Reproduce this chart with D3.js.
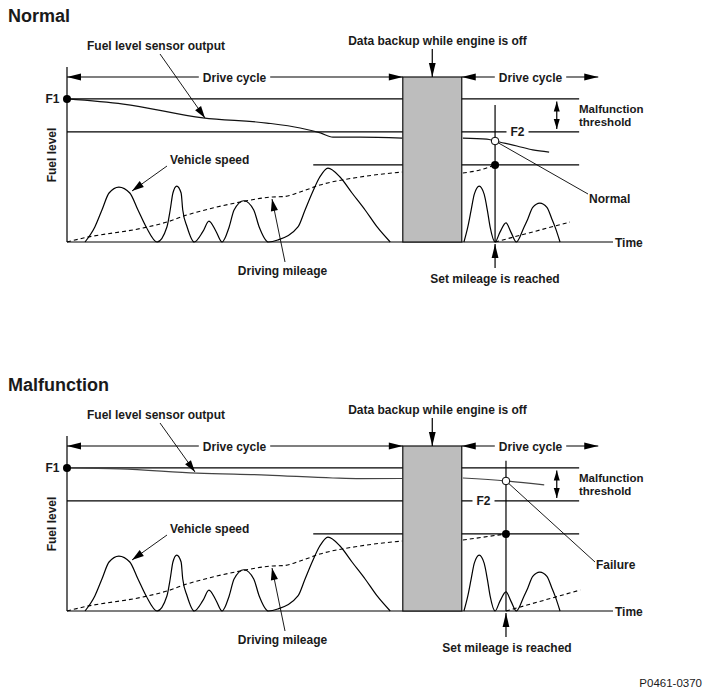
<!DOCTYPE html>
<html>
<head>
<meta charset="utf-8">
<script src="https://cdn.jsdelivr.net/npm/d3@7"></script>
<style>
  body { margin: 0; background: #fff; }
  svg { display: block; font-family: "Liberation Sans", Arial, sans-serif; }
  text { font-weight: bold; font-size: 12px; fill: #1a1a1a; }
</style>
</head>
<body>
<svg width="709" height="697"></svg>
<script>
// time (x) and level (y) are in 0-100 diagram units
const levelF1 = 86.7
const levelF2 = 66.7
const levelMileage = 46.7
const backup = [61.5, 72.3]
const refLineEnd = 93.8
const mileageLineStart = 45.1
const driveCycleEnd = 97.3

// vehicle speed, same in both panels
const speedBefore = [
  [3.3, 0], [5.1, 9.1], [6.4, 19.4], [7.7, 29.7], [9.5, 33.3], [11.5, 29.7], [13.0, 19.4], [14.5, 9.1], [16.5, 0],
  [18.3, 9.1], [18.9, 19.4], [19.4, 29.7], [20.1, 33.9], [20.9, 29.7], [21.2, 19.4], [22.0, 9.1], [23.3, 0],
  [24.9, 6.4], [26.0, 12.7], [27.3, 6.4], [28.4, 0],
  [29.7, 9.1], [30.6, 19.4], [32.4, 25], [34.2, 19.4], [35.2, 9.1], [36.9, 0],
  [38.6, 1.2], [42.3, 9.1], [43.6, 19.4], [44.9, 29.7], [46.3, 39.4], [47.8, 44.8],
  [50.0, 39.4], [52.2, 29.7], [54.6, 19.4], [56.8, 9.1], [59.2, 0]
]
const speedAfter = [
  [72.7, 0], [73.4, 9], [74.0, 19], [74.6, 29], [75.5, 33.9], [76.4, 29], [77.0, 19], [77.5, 9], [78.4, 0],
  [79.3, 6], [80.4, 11.6], [81.3, 6], [82.3, 0],
  [83.7, 9], [84.4, 14], [85.3, 21], [86.6, 23.6], [87.9, 21], [88.8, 14], [89.4, 9], [90.3, 0]
]

// driving mileage (dashed), before the engine stops
const mileageBefore = [
  [0, 0], [3, 2.4], [13.9, 8.5], [18.3, 12.1], [22, 16.4], [26.7, 20.6],
  [31.7, 24.2], [37.7, 27.3], [39.6, 27.5], [42.7, 30.3], [46.3, 34.5],
  [53.7, 39.4], [61.4, 42.4]
]

// Normal panel
const normalFuelBefore = [
  [0, 86.7], [10.3, 83.6], [24.9, 75.2], [36.6, 72.1], [42.7, 69.1],
  [46.4, 66.1], [48.7, 63.6], [53.7, 63.6], [61.4, 63.0]
]
const normalFuelAfter = [[72.5, 63.0], [76.9, 62.4], [78.4, 61.2], [82.4, 58.2], [85.3, 55.8], [88.3, 54.5]]
const normalMileageAfterBox = [[72.5, 41.8], [75.6, 43.6], [78.4, 46.7]]
const normalMileageAfterSet = [[78.4, 0], [92.1, 12.1]]
const normalSetTime = 78.4

// Malfunction panel
const failFuelBefore = [
  [0, 86.7], [9.7, 86.1], [23.8, 83.6], [36.6, 82.4], [48.7, 80.6], [53.7, 80.2], [61.4, 80.3]
]
const failFuelAfter = [[72.5, 80.6], [80.4, 78.8], [87.4, 76.4]]
const failMileageAfterBox = [[72.5, 43], [80.4, 46.7]]
const failMileageAfterSet = [[80.4, 0], [94, 12.7]]
const failSetTime = 80.4

const panels = [
  { dy: 0, title: "Normal", fuel: [normalFuelBefore, normalFuelAfter], mileAfter: [normalMileageAfterBox, normalMileageAfterSet],
    setT: normalSetTime, vTop: 83, f2x: 517.5, result: "Normal", resEnd: [588, 194], resText: [589, 203],
    fuelTip: [205, 118], setTextX: 495 },
  { dy: 369, title: "Malfunction", fuel: [failFuelBefore, failFuelAfter], mileAfter: [failMileageAfterBox, failMileageAfterSet],
    setT: failSetTime, vTop: 91, f2x: 483.5, result: "Failure", resEnd: [595, 193], resText: [596, 200],
    fuelTip: [195, 103], setTextX: 507 }
]

const svg = d3.select("svg")
svg.append("rect").attr("width", 709).attr("height", 697).attr("fill", "#fff")

const x = d3.scaleLinear().domain([0, 100]).range([67, 613])
const y = d3.scaleLinear().domain([0, 100]).range([242, 77])
const curve = d3.line().x(d => x(d[0])).y(d => y(d[1])).curve(d3.curveMonotoneX)

const defs = svg.append("defs")
function marker(id, len, half) {
  defs.append("marker")
    .attr("id", id)
    .attr("markerUnits", "userSpaceOnUse")
    .attr("viewBox", `${-len - 1} ${-half - 1} ${len + 2} ${half * 2 + 2}`)
    .attr("markerWidth", len + 2).attr("markerHeight", half * 2 + 2)
    .attr("refX", 0).attr("refY", 0)
    .attr("orient", "auto-start-reverse")
    .append("path")
    .attr("d", `M0,0L${-len},${-half}L${-len},${half}Z`)
    .attr("fill", "#000")
}
marker("big", 14, 3.4)
marker("small", 10, 3)
marker("lead", 12, 3.6)

function seg(g, x1, y1, x2, y2, w) {
  return g.append("line").attr("x1", x1).attr("y1", y1).attr("x2", x2).attr("y2", y2)
    .attr("stroke", "#000").attr("stroke-width", w || 1.2)
}

// horizontal line with a label sitting in a gap
function gapped(g, x1, x2, yy, label, cx, pad, arrows) {
  const t = g.append("text").attr("x", cx).attr("y", yy + 4.5).attr("text-anchor", "middle").text(label)
  const w = t.node().getComputedTextLength()
  const a = seg(g, x1, yy, cx - w / 2 - pad, yy)
  const b = seg(g, cx + w / 2 + pad, yy, x2, yy)
  if (arrows) {
    a.attr("marker-start", "url(#big)")
    b.attr("marker-end", "url(#big)")
  }
}

panels.forEach(p => {
  const g = svg.append("g").attr("transform", `translate(0,${p.dy})`)

  g.append("text").attr("x", 8).attr("y", 22).style("font-size", "18px").text(p.title)

  // axes
  seg(g, x(0), y(0), x(0), y(106))
  seg(g, x(0), y(0), x(100), y(0))
  g.append("text").attr("x", 615).attr("y", y(0) + 4.5).text("Time")
  g.append("text").attr("transform", `translate(56,155) rotate(-90)`).attr("text-anchor", "middle").text("Fuel level")

  // reference levels
  seg(g, x(0), y(levelF1), x(refLineEnd), y(levelF1))
  gapped(g, x(0), x(refLineEnd), y(levelF2), "F2", p.f2x, 4, false)
  seg(g, x(mileageLineStart), y(levelMileage), x(refLineEnd), y(levelMileage))
  g.append("text").attr("x", 59.5).attr("y", y(levelF1) + 4.5).attr("text-anchor", "end").text("F1")

  // vehicle speed
  ;[speedBefore, speedAfter].forEach(s => {
    g.append("path").attr("d", curve(s)).attr("fill", "none").attr("stroke", "#000").attr("stroke-width", 1.2)
  })
  // driving mileage
  ;[mileageBefore, ...p.mileAfter].forEach(s => {
    g.append("path").attr("d", curve(s)).attr("fill", "none").attr("stroke", "#000")
      .attr("stroke-width", 1.1).attr("stroke-dasharray", "4,3")
  })
  // fuel level sensor output
  p.fuel.forEach(s => {
    g.append("path").attr("d", curve(s)).attr("fill", "none")
      .attr("stroke", p.dy ? "#444" : "#111").attr("stroke-width", 1.2)
  })

  // engine-off backup box
  g.append("rect")
    .attr("x", x(backup[0])).attr("y", y(100))
    .attr("width", x(backup[1]) - x(backup[0])).attr("height", y(0) - y(100))
    .attr("fill", "#bdbdbd").attr("stroke", "#111").attr("stroke-width", 1.2)

  // drive cycles
  gapped(g, x(0), x(backup[0]), y(100), "Drive cycle", 234.5, 4, true)
  gapped(g, x(backup[1]), x(driveCycleEnd), y(100), "Drive cycle", 530.5, 4, true)

  const bx = x((backup[0] + backup[1]) / 2)
  seg(g, bx, 49, bx, y(100)).attr("marker-end", "url(#big)")
  g.append("text").attr("x", 437.5).attr("y", 45).attr("text-anchor", "middle").text("Data backup while engine is off")

  // malfunction threshold
  const tx = x(89.7)
  seg(g, tx, y(levelF1) + 2.5, tx, y(levelF2) - 3).attr("marker-start", "url(#small)").attr("marker-end", "url(#small)")
  g.append("text").attr("x", 579).attr("y", 113).style("font-size", "11.5px").text("Malfunction")
  g.append("text").attr("x", 579).attr("y", 126).style("font-size", "11.5px").text("threshold")

  // set mileage reached
  const sx = x(p.setT)
  seg(g, sx, y(0), sx, y(p.vTop))
  seg(g, sx, 268, sx, 244).attr("marker-end", "url(#big)")
  g.append("text").attr("x", p.setTextX).attr("y", 283).attr("text-anchor", "middle").text("Set mileage is reached")

  const fuelAtSet = p.fuel[1].find(d => d[0] === p.setT)
  seg(g, sx, y(fuelAtSet[1]), p.resEnd[0], p.resEnd[1], 0.9)
  g.append("text").attr("x", p.resText[0]).attr("y", p.resText[1]).text(p.result)

  g.append("circle").attr("cx", x(0)).attr("cy", y(levelF1)).attr("r", 4).attr("fill", "#000")
  g.append("circle").attr("cx", sx).attr("cy", y(levelMileage)).attr("r", 4).attr("fill", "#000")
  g.append("circle").attr("cx", sx).attr("cy", y(fuelAtSet[1])).attr("r", 3.8)
    .attr("fill", "#fff").attr("stroke", "#000").attr("stroke-width", 1)

  // labels with leaders
  g.append("text").attr("x", 87).attr("y", 50).text("Fuel level sensor output")
  seg(g, 160, 54, p.fuelTip[0], p.fuelTip[1], 0.9).attr("marker-end", "url(#lead)")
  g.append("text").attr("x", 170).attr("y", 164).text("Vehicle speed")
  seg(g, 167, 166, 132, 191, 0.9).attr("marker-end", "url(#lead)")
  g.append("text").attr("x", 282.5).attr("y", 275).attr("text-anchor", "middle").text("Driving mileage")
  seg(g, 285, 262, 272, 199, 0.9).attr("marker-end", "url(#lead)")
})

svg.append("text").attr("x", 702).attr("y", 687).attr("text-anchor", "end")
  .style("font-weight", "normal").style("font-size", "11.5px").text("P0461-0370")
</script>
</body>
</html>
